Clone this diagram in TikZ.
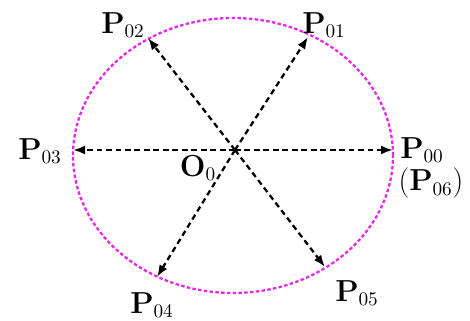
\documentclass[tikz,border=0pt]{standalone}
\usepackage{amsmath}
\usepackage{xcolor}
\usepackage{tikz}
\usetikzlibrary{arrows.meta,positioning}
\definecolor{orbitpink}{RGB}{232,40,232}

\begin{document}
\begin{tikzpicture}[
    ray/.style={draw=black, line width=1.3pt, dash pattern=on 3.2pt off 2.2pt, -{Latex[length=2.4mm,width=1.8mm]}},
    orbit/.style={draw=orbitpink, line width=1.3pt, dash pattern=on 2pt off 1.3pt},
    lbl/.style={inner sep=1pt, font=\fontsize{16}{19}\selectfont}]
\useasboundingbox (0,0) rectangle (9.4,6.4);
% circle of the sampled points
\draw[orbit] (4.66,3.29) ellipse (3.2cm and 2.75cm);
\coordinate (o) at (4.7,3.4);
\coordinate (p00) at (7.86,3.4);
\coordinate (p01) at (6.16,5.66);
\coordinate (p02) at (2.96,5.64);
\coordinate (p03) at (1.46,3.4);
\coordinate (p04) at (3.14,0.86);
\coordinate (p05) at (6.5,1.06);
% rays from the centre
\foreach \p in {p00,p01,p02,p03,p04,p05}
    \draw[ray] (o) -- (\p);
% labels
\node[lbl] (l00) at (8.44,3.4) {$\mathbf{P}_{00}$};
\node[lbl] (l06) at (8.62,2.74) {$(\mathbf{P}_{06})$};
\node[lbl] (l01) at (6.48,5.9) {$\mathbf{P}_{01}$};
\node[lbl] (l02) at (2.46,5.9) {$\mathbf{P}_{02}$};
\node[lbl] (l03) at (0.8,3.38) {$\mathbf{P}_{03}$};
\node[lbl] (l04) at (3.04,0.3) {$\mathbf{P}_{04}$};
\node[lbl] (l05) at (7.14,0.54) {$\mathbf{P}_{05}$};
\node[lbl] (lo) at (3.96,3.04) {$\mathbf{O}_{0}$};
\end{tikzpicture}
\end{document}
